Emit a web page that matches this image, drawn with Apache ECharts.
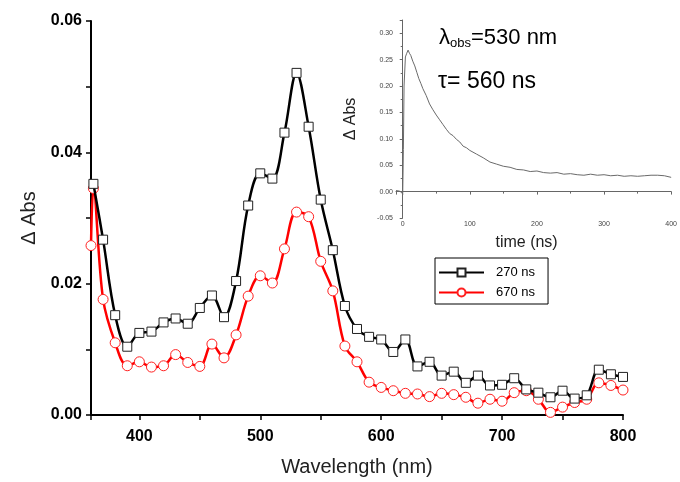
<!DOCTYPE html>
<html>
<head>
<meta charset="utf-8">
<script src="https://cdn.jsdelivr.net/npm/echarts@6/dist/echarts.min.js"></script>
<style>html,body{margin:0;padding:0;background:#fff}#c{width:680px;height:482px}</style>
</head>
<body>
<div id="c"></div>
<script>
const FONT = '"Liberation Sans", Arial, sans-serif';

const wlBlack = [362,370,380,390,400,410,420,430,440,450,460,470,480,490,500,510,520,530,540,550,560,570,580,590,600,610,620,630,640,650,660,670,680,690,700,710,720,730,740,750,760,770,780,790,800];
const abs270 = [0.0352,0.0267,0.0152,0.0104,0.0125,0.0127,0.0141,0.0147,0.0139,0.0163,0.0182,0.0149,0.0204,0.0319,0.0368,0.0360,0.0430,0.0521,0.0439,0.0328,0.0251,0.0166,0.0131,0.0119,0.0115,0.0096,0.0115,0.0074,0.0081,0.0060,0.0066,0.0049,0.0060,0.0045,0.0046,0.0056,0.0039,0.0034,0.0027,0.0037,0.0025,0.0030,0.0069,0.0062,0.0058];

const wlRed = [360,362,370,380,390,400,410,420,430,440,450,460,470,480,490,500,510,520,530,540,550,560,570,580,590,600,610,620,630,640,650,660,670,680,690,700,710,720,730,740,750,760,770,780,790,800];
const abs670 = [0.0258,0.0345,0.0176,0.0110,0.0075,0.0081,0.0073,0.0075,0.0092,0.0080,0.0074,0.0108,0.0087,0.0122,0.0181,0.0212,0.0201,0.0253,0.0309,0.0302,0.0234,0.0189,0.0105,0.0081,0.0050,0.0042,0.0037,0.0033,0.0032,0.0028,0.0033,0.0031,0.0027,0.0018,0.0024,0.0021,0.0034,0.0037,0.0024,0.0004,0.0012,0.0019,0.0024,0.0049,0.0045,0.0038];

const timeNs = [-10,-5,-1,0,1,2,4,6,8,10,12,15,18,21,24,27,30,35,40,45,50,55,60,65,70,75,80,85,90,95,100,110,120,130,140,150,160,170,180,190,200,210,220,230,240,250,260,270,280,290,300,310,320,330,340,350,360,370,380,390,400];
const decay = [0.002,0.001,-0.002,-0.006,0.08,0.20,0.255,0.262,0.268,0.262,0.258,0.247,0.238,0.226,0.214,0.205,0.195,0.182,0.166,0.155,0.145,0.136,0.127,0.118,0.110,0.106,0.099,0.094,0.086,0.083,0.078,0.071,0.064,0.056,0.052,0.048,0.046,0.042,0.041,0.038,0.039,0.036,0.035,0.036,0.033,0.034,0.032,0.031,0.033,0.031,0.032,0.030,0.031,0.029,0.030,0.029,0.030,0.031,0.031,0.030,0.027];

const chart = echarts.init(document.getElementById('c'), null, {renderer: 'canvas'});

const zip = (xs, ys) => xs.map((x, i) => [x, ys[i]]);

chart.setOption({
  animation: false,
  backgroundColor: '#fff',
  textStyle: {fontFamily: FONT},
  grid: [
    {left: 91, right: 57, top: 21, bottom: 66},
    {left: 396, top: 20, width: 281, height: 198}
  ],
  legend: {
    left: 435, top: 258,
    orient: 'vertical',
    padding: [8, 13, 5, 3],
    itemGap: 7,
    itemWidth: 45, itemHeight: 10,
    borderColor: '#000', borderWidth: 1,
    textStyle: {fontSize: 13, color: '#000', fontFamily: FONT, padding: [0, 0, 0, 7]},
    data: ['270 ns', '670 ns']
  },
  xAxis: [
    {
      gridIndex: 0, type: 'value', min: 360, max: 800,
      name: 'Wavelength (nm)', nameLocation: 'middle', nameGap: 42,
      nameTextStyle: {fontSize: 20, color: '#222', fontFamily: FONT},
      axisLine: {lineStyle: {color: '#000', width: 2}},
      axisTick: {show: true, inside: false, length: 5, lineStyle: {color: '#000', width: 1.5}},
      minorTick: {show: true, splitNumber: 2, length: 5, lineStyle: {color: '#000', width: 1.5}},
      splitLine: {show: false},
      axisLabel: {fontSize: 16, fontWeight: 'bold', color: '#000', margin: 14,
        formatter: v => (v % 100 === 0 ? String(v) : '')}
    },
    {
      gridIndex: 1, type: 'value', min: -10, max: 400,
      name: 'time (ns)', nameLocation: 'middle', nameGap: 17,
      nameTextStyle: {fontSize: 16, color: '#222', fontFamily: FONT, padding: [0, 14, 0, 0]},
      axisLine: {lineStyle: {color: '#666', width: 1}},
      axisTick: {show: true, length: 3, lineStyle: {color: '#666'}},
      minorTick: {show: true, splitNumber: 2, length: 2, lineStyle: {color: '#666'}},
      splitLine: {show: false},
      axisLabel: {fontSize: 7, color: '#444', margin: 3,
        formatter: v => (v % 100 === 0 ? String(v) : '')}
    }
  ],
  yAxis: [
    {
      gridIndex: 0, type: 'value', min: 0, max: 0.06, interval: 0.02,
      name: '\u0394 Abs', nameLocation: 'middle', nameGap: 50,
      nameTextStyle: {fontSize: 20, color: '#222', fontFamily: FONT},
      axisLine: {show: true, lineStyle: {color: '#000', width: 2}},
      axisTick: {show: true, length: 5, lineStyle: {color: '#000', width: 1.5}},
      minorTick: {show: true, splitNumber: 2, length: 5, lineStyle: {color: '#000', width: 1.5}},
      splitLine: {show: false},
      axisLabel: {fontSize: 16, fontWeight: 'bold', color: '#000', margin: 9,
        formatter: v => v.toFixed(2)}
    },
    {
      gridIndex: 1, type: 'value', min: -0.05, max: 0.325, interval: 0.05,
      name: '\u0394 Abs', nameLocation: 'middle', nameGap: 37,
      nameTextStyle: {fontSize: 16, color: '#222', fontFamily: FONT},
      axisLine: {show: true, lineStyle: {color: '#666', width: 1}},
      axisTick: {show: true, length: 3, lineStyle: {color: '#666'}},
      minorTick: {show: true, splitNumber: 2, length: 2, lineStyle: {color: '#666'}},
      splitLine: {show: false},
      axisLabel: {fontSize: 7, color: '#444', margin: 3,
        formatter: v => (v > 0.31 ? '' : v.toFixed(2))}
    }
  ],
  graphic: [
    {
      type: 'text', left: 439, top: 27,
      style: {
        text: '{l|\u03bb}{s|obs}{l|=530 nm}',
        rich: {
          l: {fontSize: 22, fontFamily: FONT, fill: '#000'},
          s: {fontSize: 13, fontFamily: FONT, fill: '#000', verticalAlign: 'bottom', padding: [11, 0, 0, 0]}
        }
      }
    },
    {
      type: 'text', left: 438, top: 70,
      style: {text: '\u03c4= 560 ns', fontSize: 23, fontFamily: FONT, fill: '#000'}
    }
  ],
  series: [
    {
      name: '670 ns', type: 'line', xAxisIndex: 0, yAxisIndex: 0,
      data: zip(wlRed, abs670), smooth: 0.35,
      symbol: 'circle', symbolSize: 10,
      lineStyle: {color: '#ff0000', width: 2.5},
      itemStyle: {color: '#fff', borderColor: '#ff2020', borderWidth: 1},
      z: 2
    },
    {
      name: '270 ns', type: 'line', xAxisIndex: 0, yAxisIndex: 0,
      data: zip(wlBlack, abs270), smooth: 0.35,
      symbol: 'rect', symbolSize: 9,
      lineStyle: {color: '#000', width: 2.5},
      itemStyle: {color: '#fff', borderColor: '#222', borderWidth: 1},
      z: 3
    },
    {
      name: 'decay', type: 'line', xAxisIndex: 1, yAxisIndex: 1,
      data: zip(timeNs, decay), showSymbol: false, symbol: 'none',
      lineStyle: {color: '#6a6a6a', width: 1}
    }
  ]
});
</script>
</body>
</html>
